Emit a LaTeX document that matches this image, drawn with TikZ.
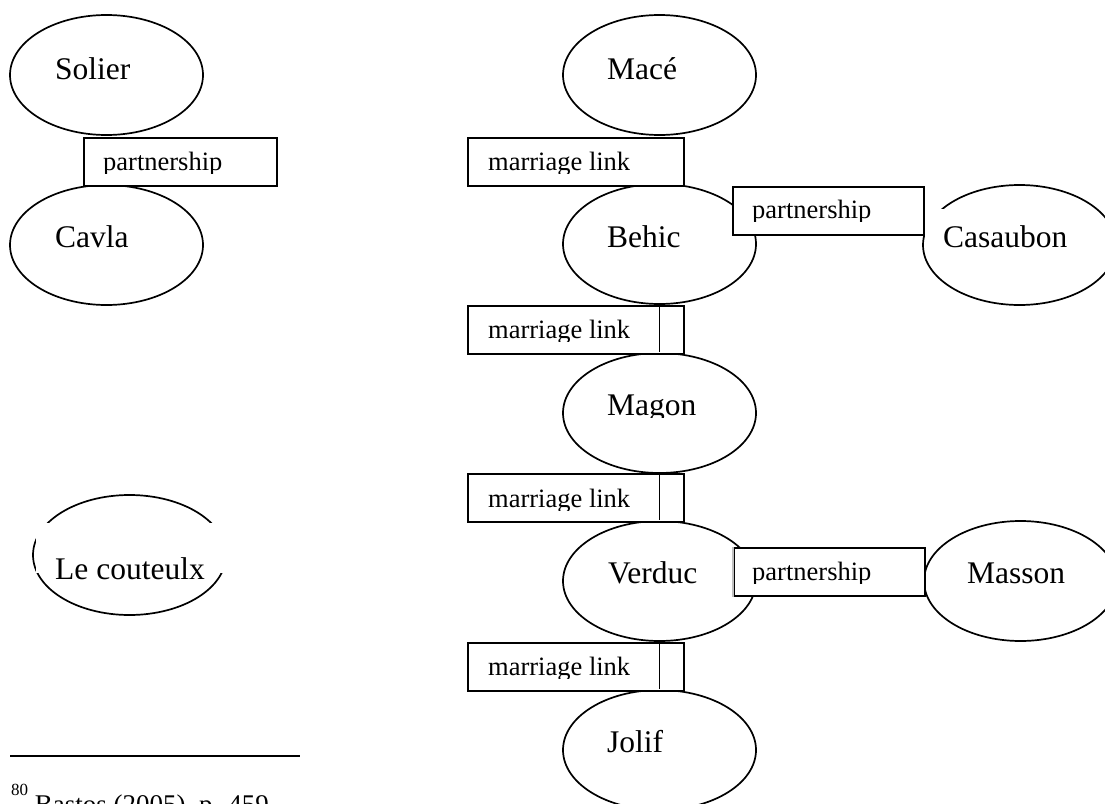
\documentclass[tikz,border=0pt]{standalone}
\usepackage{fontspec}
\setmainfont{Liberation Serif}
\usetikzlibrary{shapes.geometric}
\begin{document}
\begin{tikzpicture}[x=1pt,y=-1pt,
  person/.style={draw, ellipse, line width=1.7pt, minimum width=193pt, minimum height=120pt, inner sep=0pt},
  linkbox/.style={draw, fill=white, line width=1.6pt, minimum height=48pt, inner sep=0pt, anchor=north west},
  mask/.style={fill=white, inner sep=0pt, anchor=north west},
  bigtxt/.style={font=\fontsize{31.5}{36}\selectfont, anchor=base west, inner sep=0pt},
  smalltxt/.style={font=\fontsize{26.5}{30}\selectfont, anchor=base west, inner sep=0pt},
  conn/.style={line width=1.6pt}]
\path[use as bounding box] (0,0) rectangle (1105,803);
\clip (0,0) rectangle (1105,803);
% persons
\node[person] (solier) at (106.5,75) {};
\node[person] (cavla) at (106.5,245) {};
\node[person] (lecouteulx) at (129.5,555) {};
\node[person] (mace) at (659.5,75) {};
\node[person] (behic) at (659.5,244) {};
\node[person] (magon) at (659.5,413) {};
\node[person] (verduc) at (659.5,581) {};
\node[person] (jolif) at (659.5,750) {};
\node[person] (casaubon) at (1019.5,245) {};
\node[person] (masson) at (1020.5,581) {};
% white text areas hiding parts of some ellipses
\node[mask, minimum width=210pt, minimum height=50pt] (maskLe) at (35.5,523) {};
\node[mask, minimum width=168pt, minimum height=42pt] (maskCa) at (925,209) {};
% link boxes
\node[linkbox, minimum width=193pt] (pA) at (83,137) {};
\node[linkbox, minimum width=216pt] (mA) at (467,137) {};
\node[linkbox, minimum width=191pt] (pB) at (732,186) {};
\node[linkbox, minimum width=216pt] (mB) at (467,305) {};
\node[linkbox, minimum width=216pt] (mC) at (467,473) {};
\node[linkbox, minimum width=191pt] (pC) at (733,547) {};
\node[linkbox, minimum width=216pt] (mD) at (467,642) {};
\draw[line width=1.8pt, black!25] (pC.north west) -- (pC.south west);
% connectors
\draw[conn] (behic.south) -- (magon.north);
\draw[conn] (magon.south) -- (verduc.north);
\draw[conn] (verduc.south) -- (jolif.north);
% names
\node[bigtxt] (tSolier) at (55,79) {Solier};
\begin{scope}\clip (40,200) rectangle (200,248.5);
\node[bigtxt] (tCavla) at (55,247) {Cavla};
\end{scope}
\node[bigtxt] (tLe) at (55,579) {Le couteulx};
\node[bigtxt] (tMace) at (607,79) {Macé};
\node[bigtxt] (tBehic) at (607,247) {Behic};
\begin{scope}\clip (590,370) rectangle (750,417);
\node[bigtxt] (tMagon) at (607,415) {Magon};
\end{scope}
\node[bigtxt] (tVerduc) at (608,583) {Verduc};
\node[bigtxt] (tJolif) at (607,752) {Jolif};
\node[bigtxt] (tCasaubon) at (943,247) {Casaubon};
\node[bigtxt] (tMasson) at (967,583) {Masson};
% link labels (descenders cut)
\begin{scope}\clip (90,140) rectangle (270,173.5);
\node[smalltxt] (tpA) at (103,170) {partnership};
\end{scope}
\begin{scope}\clip (740,188) rectangle (920,221.5);
\node[smalltxt] (tpB) at (752,218) {partnership};
\end{scope}
\begin{scope}\clip (740,550) rectangle (920,583.5);
\node[smalltxt] (tpC) at (752,580) {partnership};
\end{scope}
\begin{scope}\clip (475,140) rectangle (650,173.5);
\node[smalltxt] (tmA) at (488,170) {marriage link};
\end{scope}
\begin{scope}\clip (475,308) rectangle (650,341.5);
\node[smalltxt] (tmB) at (488,338) {marriage link};
\end{scope}
\begin{scope}\clip (475,476) rectangle (650,510.5);
\node[smalltxt] (tmC) at (488,507) {marriage link};
\end{scope}
\begin{scope}\clip (475,645) rectangle (650,678.5);
\node[smalltxt] (tmD) at (488,675) {marriage link};
\end{scope}
% footnote
\coordinate (ruleL) at (10,756);
\coordinate (ruleR) at (300,756);
\draw[line width=2.4pt] (ruleL) -- (ruleR);
\node[anchor=base west, inner sep=0pt, font=\fontsize{27}{30}\selectfont] (fn) at (11,813)
  {\raisebox{18pt}{\fontsize{17}{20}\selectfont 80} Bastos (2005), p. 459};
\end{tikzpicture}
\end{document}
